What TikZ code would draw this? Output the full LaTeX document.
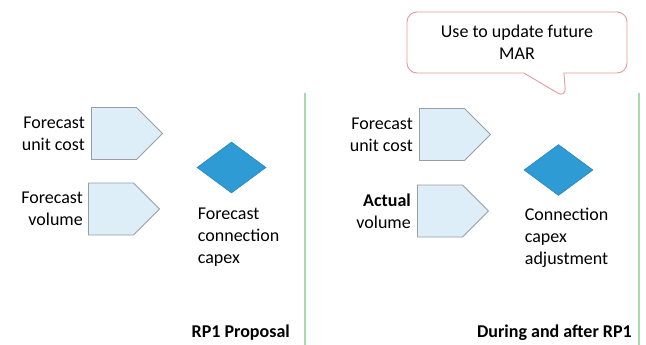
\documentclass[tikz,border=0pt]{standalone}
\usepackage{fontspec}
\setmainfont{Carlito}
\usetikzlibrary{shapes.symbols,shapes.geometric,shapes.callouts,positioning}
\definecolor{inbox}{HTML}{DDEEF8}
\definecolor{inedge}{HTML}{9A9EA3}
\definecolor{outfill}{HTML}{2E9BD5}
\definecolor{outedge}{HTML}{2A86B8}
\definecolor{divider}{HTML}{A8D8B0}
\definecolor{noteedge}{HTML}{E89A9A}
\begin{document}
\begin{tikzpicture}[x=1pt, y=-1pt,
  every node/.style={font=\fontsize{18}{22}\selectfont},
  inp/.style={signal, signal to=east, signal pointer angle=90, draw=inedge,
    fill=inbox, line width=0.9pt, minimum width=71pt, minimum height=52pt,
    inner sep=0pt, anchor=west},
  outp/.style={diamond, draw=outedge, fill=outfill, line width=0.6pt,
    minimum width=69pt, minimum height=51pt, inner sep=0pt},
  lbl/.style={inner sep=1pt}]
\useasboundingbox (0,0) rectangle (646,345);
% left panel
\node[inp] (p1) at (91,133.5) {};
\node[inp] (p2) at (88,209) {};
\node[outp] (d1) at (231.5,167.5) {};
\node[lbl, align=right, left=5pt of p1] (l1) {Forecast\\unit cost};
\node[lbl, align=right, left=4pt of p2] (l2) {Forecast\\volume};
\node[lbl, align=left, anchor=north west] (o1) at ([yshift=-13pt]d1.west |- d1.south) {Forecast\\connection\\capex};
\node[lbl, anchor=east, font=\fontsize{18}{22}\selectfont\bfseries] (s1) at (291,333) {RP1 Proposal};
\draw[divider, line width=1.3pt] (305,93) -- (305,345);
% right panel
\node[inp] (p3) at (419,134.5) {};
\node[inp] (p4) at (417,211) {};
\node[outp] (d2) at (558.5,170) {};
\node[lbl, align=right, left=5pt of p3] (l3) {Forecast\\unit cost};
\node[lbl, align=right, left=5pt of p4] (l4) {\textbf{Actual}\\volume};
\node[lbl, align=left, anchor=north west] (o2) at ([yshift=-11pt]d2.west |- d2.south) {Connection\\capex\\adjustment};
\node[lbl, anchor=east, font=\fontsize{18}{22}\selectfont\bfseries] (s2) at (633,333) {During and after RP1};
\draw[divider, line width=1.3pt] (639,93) -- (639,345);
\coordinate (tip) at (566,98);
\node[rectangle callout, callout absolute pointer=(tip), callout pointer width=40pt,
  rounded corners=10pt, draw=noteedge, fill=white, line width=0.9pt,
  minimum width=220pt, minimum height=61pt, align=center] (note) at (517,42.5)
  {Use to update future\\MAR};
\end{tikzpicture}
\end{document}
